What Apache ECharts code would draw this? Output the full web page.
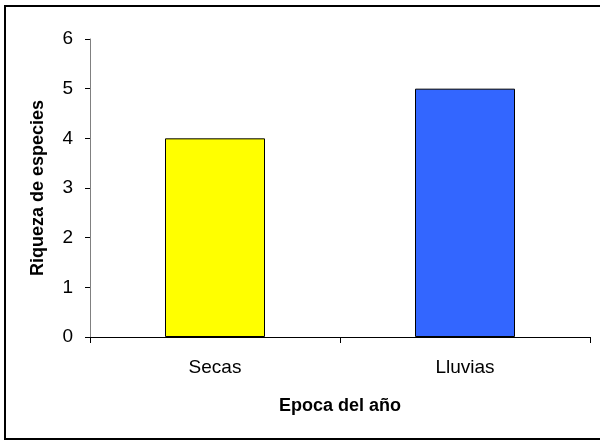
<!DOCTYPE html>
<html>
<head>
<meta charset="utf-8">
<script src="https://cdn.jsdelivr.net/npm/echarts@6/dist/echarts.min.js"></script>
<style>
  html, body { margin: 0; padding: 0; background: #fff; }
  #chart { width: 600px; height: 441px; }
</style>
</head>
<body>
<div id="chart"></div>
<script>
// Species richness by season
const categories = ['Secas', 'Lluvias'];
const richness = [4, 5];
const barColors = ['#FFFF00', '#3366FF'];
const yTicks = [0, 1, 2, 3, 4, 5, 6];

const chart = echarts.init(document.getElementById('chart'), null, { renderer: 'canvas' });
const font = 'Arial, "Liberation Sans", sans-serif';

chart.setOption({
  animation: false,
  backgroundColor: '#ffffff',
  graphic: [{
    type: 'rect',
    shape: { x: 5, y: 6, width: 620, height: 433 },
    style: { fill: 'none', stroke: '#000', lineWidth: 2 },
    silent: true,
    z: 100
  }],
  grid: { left: 90, right: 10, top: 39, bottom: 104, containLabel: false },
  xAxis: {
    type: 'category',
    data: categories,
    name: 'Epoca del año',
    nameLocation: 'middle',
    nameGap: 60,
    nameTextStyle: { fontFamily: font, fontSize: 18, fontWeight: 'bold', color: '#000' },
    axisLine: { lineStyle: { color: '#000', width: 1 } },
    axisTick: { show: true, alignWithLabel: false, length: 6, lineStyle: { color: '#000' } },
    axisLabel: { fontFamily: font, fontSize: 19, color: '#000', margin: 21 }
  },
  yAxis: {
    type: 'value',
    min: yTicks[0],
    max: yTicks[yTicks.length - 1],
    interval: 1,
    name: 'Riqueza de especies',
    nameLocation: 'middle',
    nameGap: 43,
    nameTextStyle: { fontFamily: font, fontSize: 18, fontWeight: 'bold', color: '#000' },
    axisLine: { show: true, lineStyle: { color: '#808080', width: 1 } },
    axisTick: { show: true, length: 5, lineStyle: { color: '#000' } },
    axisLabel: { fontFamily: font, fontSize: 19, color: '#000', margin: 17 },
    splitLine: { show: false }
  },
  series: [{
    type: 'bar',
    barWidth: '40%',
    data: richness.map((v, i) => ({
      value: v,
      itemStyle: { color: barColors[i], borderColor: '#000', borderWidth: 1 }
    }))
  }]
});
</script>
</body>
</html>
